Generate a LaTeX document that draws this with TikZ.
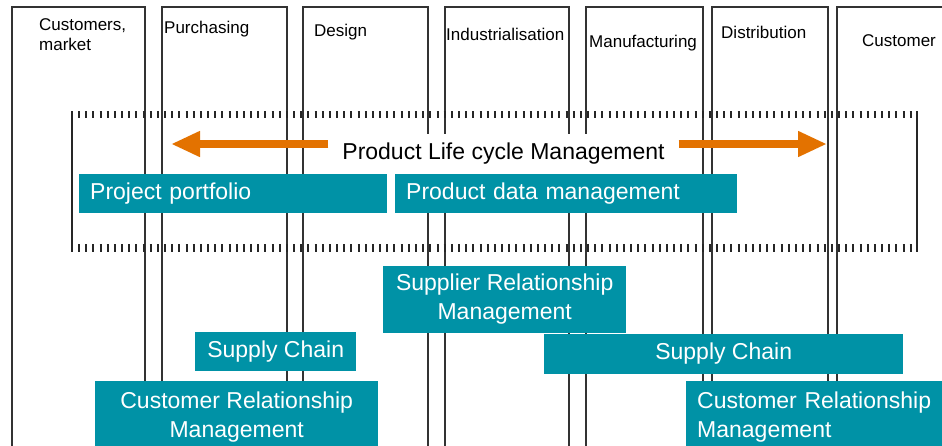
\documentclass[tikz,border=0pt]{standalone}
\usepackage{fontspec}
\setmainfont{Liberation Sans}
\usetikzlibrary{arrows.meta}
\definecolor{petrol}{RGB}{0,146,166}
\definecolor{plmorange}{RGB}{227,114,0}

\begin{document}
\begin{tikzpicture}[x=1pt,y=-1pt]
				    \tikzstyle{column}=[draw,line width=1.7pt,black!80]
				    \tikzstyle{header}=[anchor=base west,inner sep=0pt,font=\fontsize{17}{20}\selectfont,align=left]
				    \tikzstyle{ticks}=[draw,line width=7pt,black!85,dash pattern=on 2pt off 5.17pt]
				    \tikzstyle{frameside}=[draw,line width=1.7pt,black!85]
				    \tikzstyle{tealbox}=[fill=petrol,text=white,anchor=north west,inner sep=0pt,font=\fontsize{23}{28.75}\selectfont,align=center]
				    \tikzstyle{tealleft}=[tealbox,inner xsep=11pt,align=left]
				    \tikzstyle{plmarrow}=[draw=plmorange,line width=8pt,-{Triangle[length=29pt,width=24pt]}]
				    \useasboundingbox (0,0) rectangle (942,445);
				    \draw[column] (12,450) -- (12,7) -- (145,7) -- (145,450);
				    \draw[column] (162,450) -- (162,7) -- (287,7) -- (287,450);
				    \draw[column] (303,450) -- (303,7) -- (428,7) -- (428,450);
				    \draw[column] (445,450) -- (445,7) -- (569,7) -- (569,450);
				    \draw[column] (586,450) -- (586,7) -- (703,7) -- (703,450);
				    \draw[column] (712,450) -- (712,7) -- (828,7) -- (828,450);
				    \draw[column] (837,450) -- (837,7) -- (950,7);
				    \node[header] (customers) at (39,50) {Customers,\\market};
				    \node[header] (purchasing) at (164,33) {Purchasing};
				    \node[header] (design) at (314,36) {Design};
				    \node[header] (industrial) at (446,40) {Industrialisation};
				    \node[header] (manufacturing) at (589,47) {Manufacturing};
				    \node[header] (distribution) at (721,38) {Distribution};
				    \node[header] (customer) at (862,46) {Customer};
				    \draw[ticks] (78,114.5) -- (913,114.5);
				    \draw[ticks,line width=8pt] (78,247.5) -- (913,247.5);
				    \draw[frameside] (72,111) -- (72,252);
				    \draw[frameside] (917,111) -- (917,252);
				    \node[tealleft,text width=286pt,minimum height=39pt] (portfolio) at (79,173.5) {Project portfolio};
				    \node[tealleft,text width=320pt,minimum height=39pt] (pdm) at (395,173.5) {Product data management};
				    \node[tealbox,minimum width=243pt,minimum height=67pt] (srm) at (383,265.5) {Supplier Relationship\\Management};
				    \node[tealbox,minimum width=161pt,minimum height=39pt] (chainL) at (195,331.5) {Supply Chain};
				    \node[tealbox,minimum width=359pt,minimum height=40pt] (chainR) at (544,333.5) {Supply Chain};
				    \node[tealbox,minimum width=283pt,minimum height=71pt] (crmL) at (95,381) {Customer Relationship\\Management};
				    \node[tealleft,text width=248pt,minimum height=71pt] (crmR) at (686,381) {Customer Relationship\\Management};
				    \node[fill=white,minimum width=350pt,minimum height=40pt,inner sep=0pt,font=\fontsize{23}{28.75}\selectfont] (plm) at (503.5,154) {Product Life cycle Management};
				    \coordinate (tipL) at (171,144);
				    \coordinate (tipR) at (827,144);
				    \draw[plmarrow] (plm.west |- tipL) -- (tipL);
				    \draw[plmarrow] (plm.east |- tipR) -- (tipR);
				\end{tikzpicture}
\end{document}
